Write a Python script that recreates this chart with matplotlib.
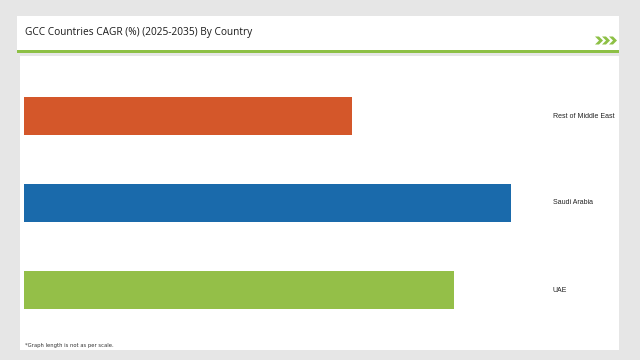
import matplotlib
matplotlib.use("Agg")
import matplotlib.pyplot as plt
from matplotlib.patches import Rectangle, Polygon

categories = ["UAE", "Saudi Arabia", "Rest of Middle East"]
values = [4.42, 5.0, 3.37]
colors = ["#94bf48", "#1a6aab", "#d4572a"]
title = "GCC Countries CAGR (%) (2025-2035) By Country"
footnote = "*Graph length is not as per scale."

W, H = 640, 360
fig = plt.figure(figsize=(6.4, 3.6), dpi=100)
fig.patch.set_facecolor("#e6e6e6")

def fx(x): return x / W
def fy(y): return 1 - y / H

def panel(x0, y0, x1, y1, color, z):
    fig.patches.append(Rectangle((fx(x0), fy(y1)), fx(x1) - fx(x0), fy(y0) - fy(y1),
                                 transform=fig.transFigure, facecolor=color,
                                 edgecolor="none", zorder=z))

panel(17, 16, 619, 52, "white", -2)
panel(17, 50, 619, 52.5, "#8dc045", -1)
panel(20, 56, 619, 350, "white", -2)

# chevrons
for x0 in (595, 602, 609):
    t, h, top, bot = 4, 4, 36.5, 44.5
    mid = (top + bot) / 2
    pts = [(x0, top), (x0 + t, top), (x0 + t + h, mid), (x0 + t, bot), (x0, bot), (x0 + h, mid)]
    fig.patches.append(Polygon([(fx(a), fy(b)) for a, b in pts], closed=True,
                               transform=fig.transFigure, facecolor="#8dc045",
                               edgecolor="none", zorder=1))

fig.text(fx(25), fy(33), title, fontsize=7.3, color="#1a1a1a", va="center", ha="left",
         family="Open Sans", zorder=3)
fig.text(fx(25), fy(345), footnote, fontsize=3.8, color="#333333", va="center", ha="left",
         zorder=3)

ax = fig.add_axes([fx(24), fy(333.5), fx(535) - fx(24), fy(72.5) - fy(333.5)])
ax.set_zorder(5)
ax.set_facecolor("none")
ypos = list(range(len(categories)))
ax.barh(ypos, values, height=0.44, color=colors)
ax.set_xlim(0, 5.25)
ax.set_ylim(-0.5, 2.5)
for y, c in zip(ypos, categories):
    ax.text(1.035, y, c, transform=ax.get_yaxis_transform(), fontsize=5.0, va="center",
            ha="left", color="#222222", family="Liberation Sans")
ax.axis("off")

fig.savefig("out.png", dpi=100, facecolor=fig.get_facecolor())
